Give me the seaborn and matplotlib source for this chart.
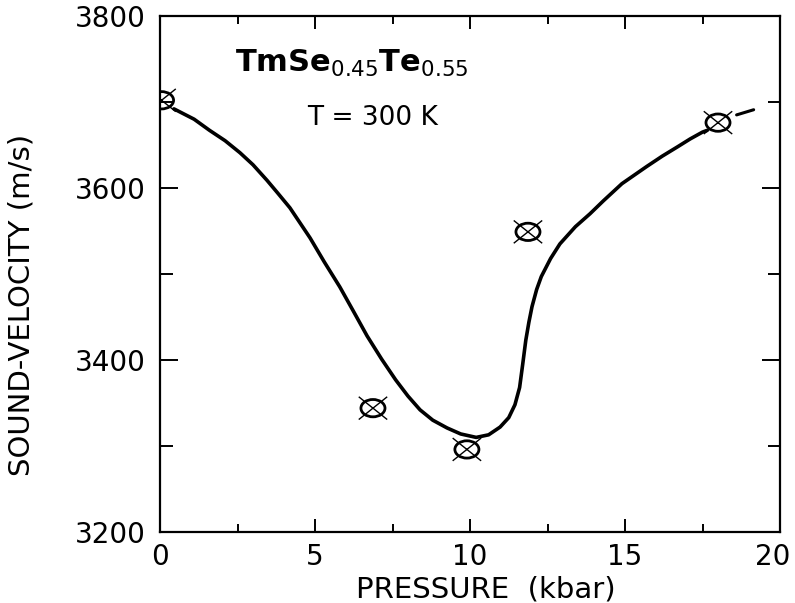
import matplotlib
matplotlib.use("Agg")
import matplotlib.pyplot as plt
from matplotlib.path import Path
from matplotlib.transforms import Affine2D, ScaledTranslation
from matplotlib.ticker import MultipleLocator
import seaborn as sns

# ---- data ----
meas_pressure = [0.05, 6.87, 9.9, 11.87, 18.0]
meas_velocity = [3702, 3344, 3296, 3549, 3676]

curve_pressure = [0.45, 1.1, 1.6, 2.1, 2.58, 3.0, 3.45, 3.8, 4.19, 4.84, 5.3, 5.8,
                  6.25, 6.68, 7.15, 7.6, 8.0, 8.39, 8.8, 9.26, 9.7, 10.2, 10.6,
                  10.97, 11.25, 11.45, 11.6, 11.7, 11.8, 11.9, 12.0, 12.15, 12.3,
                  12.6, 12.9, 13.4, 13.87, 14.3, 14.9, 15.7, 16.2, 16.7, 17.1,
                  17.5, 17.65]
curve_velocity = [3692, 3680, 3667, 3655, 3641, 3627, 3609, 3594, 3577, 3542, 3514,
                  3485, 3456, 3428, 3401, 3377, 3358, 3342, 3330, 3321, 3314, 3310,
                  3313, 3322, 3333, 3348, 3368, 3395, 3423, 3444, 3462, 3482, 3497,
                  3518, 3535, 3555, 3570, 3585, 3605, 3625, 3637, 3648, 3657,
                  3665, 3667]

ext_pressure = [18.6, 19.15]
ext_velocity = [3685, 3691]

x_ticks = [0, 5, 10, 15, 20]
y_ticks = [3200, 3400, 3600, 3800]

title_text = r'$\mathbf{TmSe}_{\mathrm{0.45}}\mathbf{Te}_{\mathrm{0.55}}$'
temp_text = "T = 300 K"
x_label = "PRESSURE  (kbar)"
y_label = "SOUND-VELOCITY (m/s)"

# ---- style ----
sns.set_style("ticks")
plt.rcParams["font.family"] = ["DejaVu Sans"]
plt.rcParams["mathtext.fontset"] = "dejavusans"

fig = plt.figure(figsize=(7.95, 6.03), dpi=100)
ax = fig.add_axes([160 / 795, 1 - 532 / 603, 620 / 795, 516 / 603])

# curve
sns.lineplot(x=curve_pressure, y=curve_velocity, ax=ax, color="black",
             linewidth=2.6, sort=False, estimator=None)
sns.lineplot(x=ext_pressure, y=ext_velocity, ax=ax, color="black",
             linewidth=2.2, sort=False, estimator=None)

# markers: ellipse with a cross
ellipse = Path.unit_circle().transformed(Affine2D().scale(1.0, 0.72))
cross = Path([(-1, -0.8), (1, 0.8), (-1, 0.8), (1, -0.8)],
             [Path.MOVETO, Path.LINETO, Path.MOVETO, Path.LINETO])
sns.scatterplot(x=meas_pressure, y=meas_velocity, ax=ax, marker=ellipse, s=300,
                facecolor="none", edgecolor="black", linewidth=2.0, zorder=5)
sns.scatterplot(x=meas_pressure, y=meas_velocity, ax=ax, marker=cross, s=420,
                facecolor="none", edgecolor="black", linewidth=1.0, zorder=5)

ax.set_xlim(0, 20)
ax.set_ylim(3200, 3800)
ax.set_xticks(x_ticks)
ax.set_yticks(y_ticks)
ax.set_xticklabels([str(v) for v in x_ticks])
ax.set_yticklabels([str(v) for v in y_ticks])
ax.xaxis.set_minor_locator(MultipleLocator(2.5))
ax.yaxis.set_minor_locator(MultipleLocator(100))

for s in ax.spines.values():
    s.set_visible(True)
    s.set_linewidth(1.6)
    s.set_color("black")

ax.tick_params(which="both", direction="in", top=True, right=True,
               width=1.4, color="black", labelsize=20, labelcolor="black")
ax.tick_params(axis="x", which="major", length=9.5, pad=8)
ax.tick_params(axis="x", which="minor", length=6)
ax.tick_params(axis="y", which="major", length=13, pad=10)
ax.tick_params(axis="y", which="minor", length=9)

# nudge the last x tick label so it stays inside the figure
last = ax.get_xticklabels()[-1]
last.set_transform(last.get_transform() + ScaledTranslation(-7 / 100, 0, fig.dpi_scale_trans))

ax.set_xlabel(x_label, fontsize=21, color="black")
ax.set_ylabel(y_label, fontsize=21, color="black")
ax.xaxis.set_label_coords(0.526, -0.085)
ax.yaxis.set_label_coords(-0.2, 0.44)

ax.text(0.121, 0.891, title_text, transform=ax.transAxes, fontsize=22,
        ha="left", va="baseline", color="black")
ax.text(0.237, 0.789, temp_text, transform=ax.transAxes, fontsize=19,
        ha="left", va="baseline", color="black")

fig.savefig("out.png", dpi=100, facecolor="white")
